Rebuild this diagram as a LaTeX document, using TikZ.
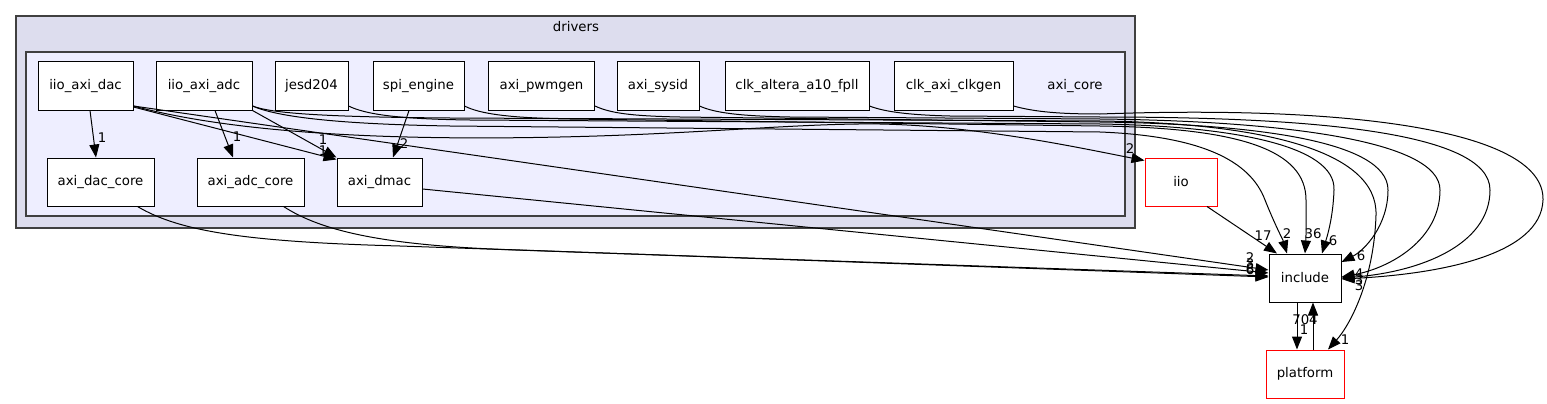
\documentclass[tikz,border=0pt]{standalone}
\usepackage{fontspec}
\setmainfont{DejaVu Sans}
\usetikzlibrary{arrows.meta}

\definecolor{clusterfill}{RGB}{221,221,238}
\definecolor{innerfill}{RGB}{238,238,255}
\definecolor{clusterline}{RGB}{64,64,64}

\tikzset{
  dirbox/.style={draw=black, fill=white, line width=1pt, minimum height=48pt,
    inner sep=0pt, font=\fontsize{13.3}{16}\selectfont},
  extbox/.style={dirbox, draw=red},
  dep/.style={draw=black, line width=1pt, -{Triangle[length=13pt,width=10pt]}},
  num/.style={inner sep=0pt, font=\fontsize{13.3}{16}\selectfont},
}

\begin{document}
\begin{tikzpicture}[x=1pt, y=-1pt]
    \useasboundingbox (0,0) rectangle (1547,404);

    % Clusters
    \draw[draw=clusterline, fill=clusterfill, line width=1.3pt] (16,16) rectangle (1135,228);
    \node[num] (driverslab) at (576,27) {drivers};
    \draw[draw=clusterline, fill=innerfill, line width=1.3pt] (26,52) rectangle (1125,216);
    \node[num] (corelab) at (1075,86) {axi\_core};

    % Directories in axi_core
    \node[dirbox, minimum width=95pt] (dac) at (85.5,86) {iio\_axi\_dac};
    \node[dirbox, minimum width=96pt] (adc) at (204,86) {iio\_axi\_adc};
    \node[dirbox, minimum width=73pt] (jesd) at (311.5,86) {jesd204};
    \node[dirbox, minimum width=91pt] (spi) at (418.5,86) {spi\_engine};
    \node[dirbox, minimum width=106pt] (pwm) at (541.5,86) {axi\_pwmgen};
    \node[dirbox, minimum width=82pt] (sysid) at (658,86) {axi\_sysid};
    \node[dirbox, minimum width=144pt] (fpll) at (797,86) {clk\_altera\_a10\_fpll};
    \node[dirbox, minimum width=119pt] (clkgen) at (953.5,86) {clk\_axi\_clkgen};
    \node[dirbox, minimum width=107pt] (daccore) at (100.5,182) {axi\_dac\_core};
    \node[dirbox, minimum width=107pt] (adccore) at (250.5,182) {axi\_adc\_core};
    \node[dirbox, minimum width=85pt] (dmac) at (379.5,182) {axi\_dmac};

    % Outside directories
    \node[extbox, minimum width=72pt] (iio) at (1181,182) {iio};
    \node[dirbox, minimum width=72pt] (inc) at (1305,278) {include};
    \node[extbox, minimum width=78pt] (plat) at (1305,374) {platform};

    % Short edges inside axi_core
    \draw[dep] ([xshift=4.5pt]dac.south) -- ([xshift=-4.5pt]daccore.north);
    \draw[dep] ([xshift=11pt]adc.south) -- ([xshift=-17.5pt]adccore.north);
    \draw[dep] ([yshift=-21pt]dac.east) -- ([yshift=-2pt]dmac.north west);
    \draw[dep] (adc.south east) -- (dmac.north west);
    \draw[dep] ([xshift=-9.5pt]spi.south) -- ([xshift=13.5pt]dmac.north);

    % Edges to iio
    \draw[dep] ([yshift=-20pt]dac.east) .. controls (230,132) and (380,141) .. (560,137)
        .. controls (700,134) and (800,123) .. (880,124)
        .. controls (980,126) and (1080,148) .. ([yshift=-3pt]iio.north west);
    \draw[dep] ([xshift=26pt]iio.south) -- ([xshift=-28pt]inc.north);

    % Edges to include, through the bundle
    \draw[dep] ([yshift=-20pt]adc.east) .. controls (275,116) and (330,124) .. (450,126)
        -- (1100,132) .. controls (1200,136) and (1250,160) .. (1265,200)
        .. controls (1275,225) and (1283,240) .. ([xshift=-18pt]inc.north);
    \draw[dep] ([yshift=-20pt]jesd.east) .. controls (365,114) and (395,119) .. (470,120)
        -- (1100,124) .. controls (1230,126) and (1336,145) .. (1334,190)
        .. controls (1333,220) and (1326,240) .. ([xshift=17pt]inc.north);
    \draw[dep] ([yshift=-20pt]spi.east) .. controls (480,114) and (510,118) .. (570,119)
        -- (1100,126) .. controls (1240,128) and (1306,150) .. (1306,200)
        .. controls (1306,225) and (1306,240) .. (inc.north);
    \draw[dep] ([yshift=-20pt]pwm.east) .. controls (610,113) and (630,116) .. (680,117)
        -- (1100,122) .. controls (1250,124) and (1388,140) .. (1388,190)
        .. controls (1388,225) and (1365,250) .. ([yshift=16pt]inc.east);
    \draw[dep] ([yshift=-20pt]sysid.east) .. controls (715,113) and (740,116) .. (790,117)
        -- (1100,119) .. controls (1280,121) and (1440,140) .. (1440,190)
        .. controls (1440,240) and (1390,268) .. ([yshift=1pt]inc.east);
    \draw[dep] ([yshift=-20pt]fpll.east) .. controls (885,112) and (910,115) .. (950,116)
        -- (1100,117) .. controls (1300,117) and (1490,130) .. (1490,190)
        .. controls (1490,245) and (1420,272) .. (inc.east);
    \draw[dep] ([yshift=-20pt]clkgen.east) .. controls (1035,112) and (1060,114) .. (1100,114)
        .. controls (1350,105) and (1545,130) .. (1543,200)
        .. controls (1541,255) and (1440,274) .. ([yshift=-1pt]inc.east);

    % Edge to platform
    \draw[dep] ([yshift=-20pt]adc.east) .. controls (270,113) and (320,117) .. (450,118)
        -- (1100,121) .. controls (1260,123) and (1378,150) .. (1376,215)
        .. controls (1374,280) and (1350,325) .. ([xshift=23pt]plat.north);

    % Long edges into include from the left
    \draw[dep] ([yshift=-20pt]dac.east) -- ([yshift=8pt]inc.west);
    \draw[dep] ([yshift=-7pt]dmac.east) -- ([yshift=5pt]inc.west);
    \draw[dep] ([xshift=-17pt]daccore.south east) .. controls (180,232) and (250,242) .. (400,246)
        -- ([yshift=2pt]inc.west);
    \draw[dep] ([xshift=-21pt]adccore.south east) .. controls (320,230) and (380,246) .. (520,250)
        -- ([yshift=1pt]inc.west);

    % include <-> platform
    \draw[dep] ([xshift=-8pt]inc.south) -- ([xshift=-8pt]plat.north);
    \draw[dep] ([xshift=8pt]plat.north) -- ([xshift=8pt]inc.south);

    % Edge labels
    \node[num] (l1) at (102,138) {1};
    \node[num] (l2) at (237,137) {1};
    \node[num] (l3) at (323,140) {1};
    \node[num] (l4) at (323,151) {1};
    \node[num] (l5) at (404,144) {2};
    \node[num] (l6) at (1130,149) {2};
    \node[num] (l7) at (1263,236) {17};
    \node[num] (l8) at (1287,234) {2};
    \node[num] (l9) at (1313,234) {36};
    \node[num] (l10) at (1333,241) {6};
    \node[num] (l11) at (1361,256) {6};
    \node[num] (l12) at (1359,274) {4};
    \node[num] (l13) at (1359,280) {3};
    \node[num] (l14) at (1359,286) {3};
    \node[num] (l15) at (1250,258) {2};
    \node[num] (l16) at (1250,264) {3};
    \node[num] (l17) at (1250,269) {8};
    \node[num] (l18) at (1250,270) {6};
    \node[num] (l19) at (1305,320) {704};
    \node[num] (l20) at (1304,330) {1};
    \node[num] (l21) at (1345,340) {1};
\end{tikzpicture}
\end{document}
